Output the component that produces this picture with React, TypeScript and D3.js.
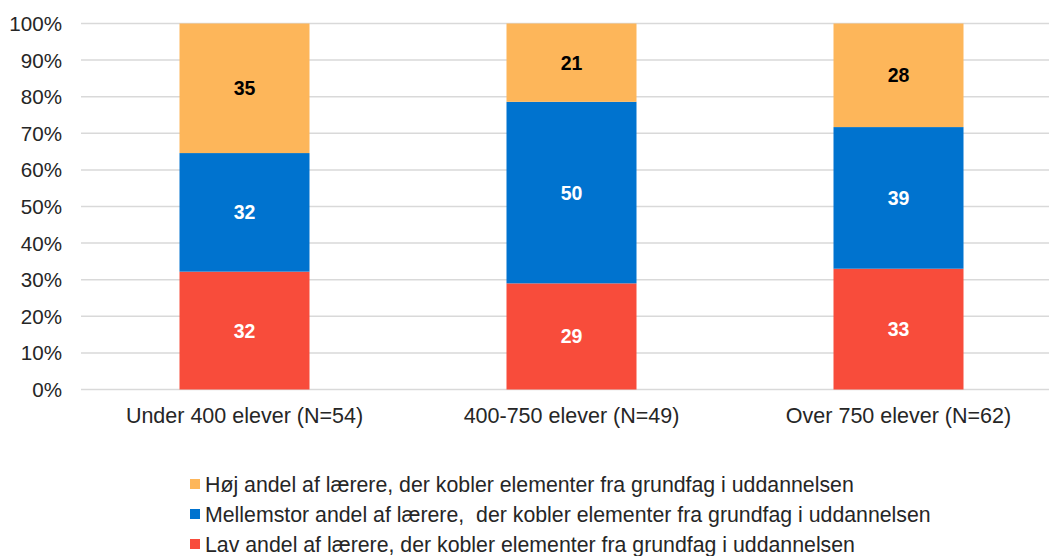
import React from "react";
import * as d3 from "d3";

const categories = ["Under 400 elever (N=54)", "400-750 elever (N=49)", "Over 750 elever (N=62)"];
const lavValues = [32.2, 29.0, 33.0];
const mellemValues = [32.4, 49.6, 38.7];
const hojValues = [35.4, 21.4, 28.3];
const yTicks = [0, 10, 20, 30, 40, 50, 60, 70, 80, 90, 100];
const seriesNames = [
  "Høj andel af lærere, der kobler elementer fra grundfag i uddannelsen",
  "Mellemstor andel af lærere,  der kobler elementer fra grundfag i uddannelsen",
  "Lav andel af lærere, der kobler elementer fra grundfag i uddannelsen",
];

const W = 1049;
const H = 556;
const FONT = "'Liberation Sans', Arial, sans-serif";

export default function App() {
  const x = d3.scaleBand<string>().domain(categories).range([81, 1062]).paddingInner(0.6).paddingOuter(0.3);
  const y = d3.scaleLinear().domain([0, 100]).range([389.5, 23.5]);

  const rows = categories.map((c, i) => ({ cat: c, lav: lavValues[i], mellem: mellemValues[i], hoj: hojValues[i] }));
  const keys = ["lav", "mellem", "hoj"];
  const stack = d3.stack<any>().keys(keys)(rows);
  const colors: Record<string, string> = { lav: "#F84C3B", mellem: "#0073CF", hoj: "#FDB65A" };
  const labelColors: Record<string, string> = { lav: "#ffffff", mellem: "#ffffff", hoj: "#000000" };
  const legendKeys = ["hoj", "mellem", "lav"];

  const bw = 130;

  return (
    <svg width={W} height={H} style={{ position: "absolute", left: 0, top: 0, background: "#fff" }} fontFamily={FONT}>
      {yTicks.map((t) => (
        <g key={t}>
          <line x1={81} x2={W} y1={y(t)} y2={y(t)} stroke="#d9d9d9" strokeWidth={1.5} />
          <text x={62} y={y(t)} dy="0.36em" textAnchor="end" fontSize={20.6} fill="#262626">
            {t}%
          </text>
        </g>
      ))}
      {stack.map((s) =>
        s.map((d, i) => {
          const cx = (x(categories[i]) as number) + x.bandwidth() / 2;
          const y0 = y(d[0]);
          const y1 = y(Math.min(100, d[1]));
          return (
            <g key={s.key + i}>
              <rect x={cx - bw / 2} y={y1} width={bw} height={y0 - y1} fill={colors[s.key]} />
              <text
                x={cx}
                y={(y0 + y1) / 2}
                dy="0.36em"
                textAnchor="middle"
                fontSize={19.5}
                fontWeight="bold"
                fill={labelColors[s.key]}
              >
                {Math.round(d[1] - d[0])}
              </text>
            </g>
          );
        })
      )}
      {categories.map((c) => (
        <text key={c} x={(x(c) as number) + x.bandwidth() / 2} y={423} textAnchor="middle" fontSize={21.5} fill="#262626">
          {c}
        </text>
      ))}
      {legendKeys.map((k, i) => (
        <g key={k}>
          <rect x={190} y={479 + i * 30} width={10} height={10} fill={colors[k]} />
          <text x={205} y={492 + i * 30} fontSize={21.3} fill="#262626" style={{ whiteSpace: "pre" }}>
            {seriesNames[i]}
          </text>
        </g>
      ))}
    </svg>
  );
}
